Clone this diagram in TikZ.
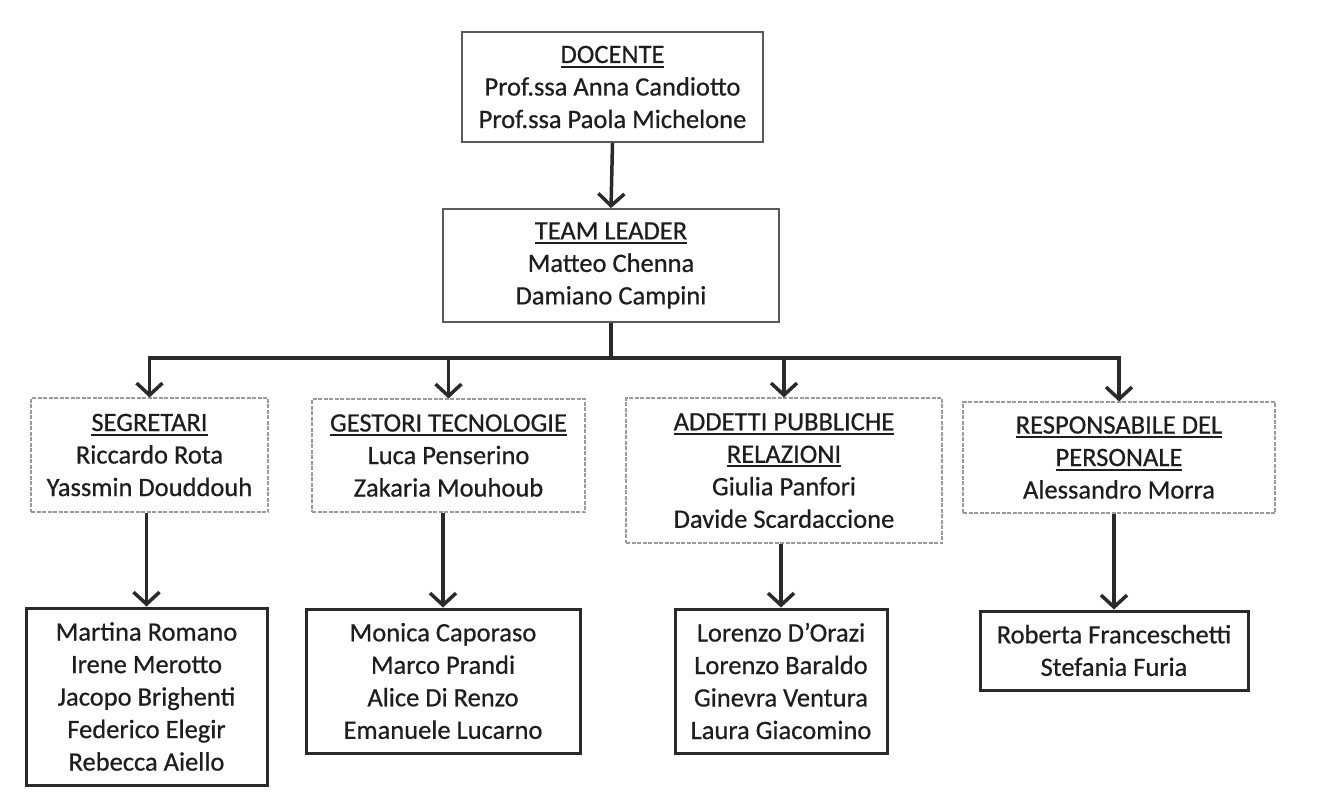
\documentclass[tikz,border=0pt]{standalone}
\usepackage{fontspec}
\setmainfont{Carlito}[FakeBold=0.6]
\usetikzlibrary{arrows.meta}
\definecolor{txt}{HTML}{1E1E1E}
\definecolor{linec}{HTML}{2A2A2A}
\definecolor{topc}{HTML}{5A5A5A}
\definecolor{midc}{HTML}{9A9A9A}
\newcommand\hdl[1]{\leavevmode\vtop{\hbox{#1}\kern2.5pt\hrule height 2pt}}
\begin{document}
\begin{tikzpicture}[x=1pt,y=-1pt,
  every node/.style={align=center, inner sep=0pt, text=txt, font=\fontsize{26.5}{32.5}\selectfont},
  topbox/.style={draw=topc, line width=1.8pt},
  midbox/.style={draw=midc, line width=1.1pt, dash pattern=on 4pt off 1.5pt},
  lowbox/.style={draw=linec, line width=3pt},
  arr/.style={draw=linec, line width=3.5pt, line join=miter, -{Straight Barb[length=12pt,width=26pt]}}]
\useasboundingbox (0,0) rectangle (1329,803);
\fill[white] (0,0) rectangle (1329,803);

\node[topbox, minimum width=301pt, minimum height=110pt] (doc) at (612.5,87)
  {\hdl{DOCENTE}\\Prof.ssa Anna Candiotto\\Prof.ssa Paola Michelone};
\node[topbox, minimum width=336pt, minimum height=113pt] (tl) at (611,265.5)
  {\hdl{TEAM LEADER}\\Matteo Chenna\\Damiano Campini};

\node[midbox, minimum width=237pt, minimum height=114pt] (seg) at (149.5,455)
  {\hdl{SEGRETARI}\\Riccardo Rota\\Yassmin Douddouh};
\node[midbox, minimum width=273pt, minimum height=113pt] (ges) at (448.5,455.5)
  {\hdl{GESTORI TECNOLOGIE}\\Luca Penserino\\Zakaria Mouhoub};
\node[midbox, minimum width=316pt, minimum height=145pt] (add) at (784,470.5)
  {\hdl{ADDETTI PUBBLICHE}\\\hdl{RELAZIONI}\\Giulia Panfori\\Davide Scardaccione};
\node[midbox, minimum width=312pt, minimum height=111pt] (res) at (1119,457.5)
  {\hdl{RESPONSABILE DEL}\\\hdl{PERSONALE}\\Alessandro Morra};

\node[lowbox, minimum width=241pt, minimum height=177pt] (segs) at (146.5,696.5)
  {Martina Romano\\Irene Merotto\\Jacopo Brighenti\\Federico Elegir\\Rebecca Aiello};
\node[lowbox, minimum width=274pt, minimum height=144pt] (gess) at (443,681)
  {Monica Caporaso\\Marco Prandi\\Alice Di Renzo\\Emanuele Lucarno};
\node[lowbox, minimum width=212pt, minimum height=144pt] (adds) at (781,681)
  {Lorenzo D’Orazi\\Lorenzo Baraldo\\Ginevra Ventura\\Laura Giacomino};
\node[lowbox, minimum width=268pt, minimum height=79pt] (ress) at (1114,650.5)
  {Roberta Franceschetti\\Stefania Furia};

\draw[arr] (doc.south) -- (tl.north);
\draw[arr] (tl.south) -- ++(0,35) -| (seg.north);
\draw[arr] (tl.south) -- ++(0,35) -| (ges.north);
\draw[arr] (tl.south) -- ++(0,35) -| (add.north);
\draw[arr] (tl.south) -- ++(0,35) -| (res.north);

\draw[arr] (segs.north |- seg.south) -- (segs.north);
\draw[arr] (gess.north |- ges.south) -- (gess.north);
\draw[arr] (adds.north |- add.south) -- (adds.north);
\draw[arr] (ress.north |- res.south) -- (ress.north);
\end{tikzpicture}
\end{document}
